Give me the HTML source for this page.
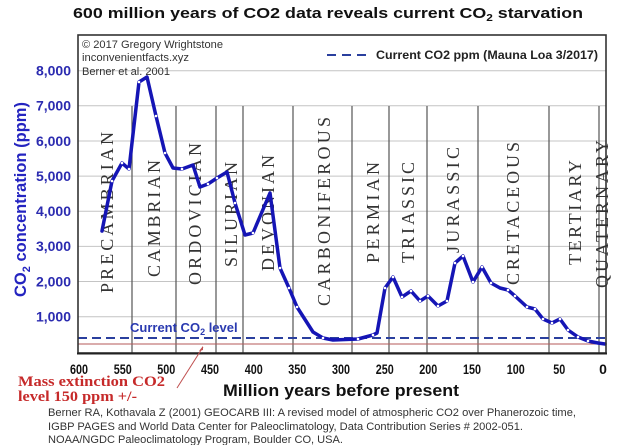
<!DOCTYPE html>
<html><head><meta charset="utf-8"><style>
html,body{margin:0;padding:0;background:#fff;}
svg{display:block;}
text{font-family:"Liberation Sans",Arial,sans-serif;}
.per text{font-family:"Liberation Serif","Times New Roman",serif;font-size:18px;fill:#333;}
.red text{font-family:"Liberation Serif","Times New Roman",serif;font-weight:bold;fill:#c62a2a;font-size:15px;}
.yl{font-size:14px;font-weight:bold;fill:#2b2bb0;}
.xl{font-size:14px;font-weight:bold;fill:#111;}
</style></head><body>
<svg width="618" height="445" viewBox="0 0 618 445" xmlns="http://www.w3.org/2000/svg">
<rect width="618" height="445" fill="#fff"/>
<!-- title -->
<text x="73" y="18" font-size="15" font-weight="bold" fill="#111" textLength="510" lengthAdjust="spacingAndGlyphs">600 million years of CO2 data reveals current CO<tspan font-size="10" dy="3">2</tspan><tspan dy="-3"> starvation</tspan></text>

<!-- grid lines -->
<g stroke="#c4c4c4" stroke-width="1">
<line x1="78" y1="70.7" x2="606" y2="70.7"/>
<line x1="78" y1="105.8" x2="606" y2="105.8"/>
<line x1="78" y1="141" x2="606" y2="141"/>
<line x1="78" y1="176.1" x2="606" y2="176.1"/>
<line x1="78" y1="211.2" x2="606" y2="211.2"/>
<line x1="78" y1="246.4" x2="606" y2="246.4"/>
<line x1="78" y1="281.5" x2="606" y2="281.5"/>
<line x1="78" y1="316.7" x2="606" y2="316.7"/>
</g>
<!-- period vertical lines -->
<g stroke="#555" stroke-width="1.2">
<line x1="132" y1="106" x2="132" y2="353"/>
<line x1="176" y1="106" x2="176" y2="353"/>
<line x1="216" y1="106" x2="216" y2="353"/>
<line x1="243" y1="106" x2="243" y2="353"/>
<line x1="293" y1="106" x2="293" y2="353"/>
<line x1="352" y1="106" x2="352" y2="353"/>
<line x1="389" y1="106" x2="389" y2="353"/>
<line x1="427" y1="106" x2="427" y2="353"/>
<line x1="478" y1="106" x2="478" y2="353"/>
<line x1="549" y1="106" x2="549" y2="353"/>
<line x1="599" y1="106" x2="599" y2="353"/>
</g>

<!-- period labels -->
<g class="per">
<text transform="translate(113,293) rotate(-90)" textLength="161" lengthAdjust="spacing">PRECAMBRIAN</text>
<text transform="translate(160,277) rotate(-90)" textLength="117" lengthAdjust="spacing">CAMBRIAN</text>
<text transform="translate(201,285) rotate(-90)" textLength="142" lengthAdjust="spacing">ORDOVICIAN</text>
<text transform="translate(237,267) rotate(-90)" textLength="105" lengthAdjust="spacing">SILURIAN</text>
<text transform="translate(274,271) rotate(-90)" textLength="116" lengthAdjust="spacing">DEVONIAN</text>
<text transform="translate(330,306) rotate(-90)" textLength="189" lengthAdjust="spacing">CARBONIFEROUS</text>
<text transform="translate(379,263) rotate(-90)" textLength="101" lengthAdjust="spacing">PERMIAN</text>
<text transform="translate(414,263) rotate(-90)" textLength="101" lengthAdjust="spacing">TRIASSIC</text>
<text transform="translate(459,253) rotate(-90)" textLength="106" lengthAdjust="spacing">JURASSIC</text>
<text transform="translate(519,285) rotate(-90)" textLength="143" lengthAdjust="spacing">CRETACEOUS</text>
<text transform="translate(581,265) rotate(-90)" textLength="105" lengthAdjust="spacing">TERTIARY</text>
<text transform="translate(608,288) rotate(-90)" textLength="148" lengthAdjust="spacing">QUATERNARY</text>
</g>

<!-- red mass extinction line -->
<line x1="78" y1="344" x2="606" y2="344" stroke="#b45a5a" stroke-width="1"/>
<!-- current CO2 dashed line -->
<line x1="78" y1="338" x2="606" y2="338" stroke="#2a3f9e" stroke-width="2" stroke-dasharray="9 5"/>

<!-- data curve -->
<polyline fill="none" stroke="#1515b5" stroke-width="3.5" stroke-linejoin="round" stroke-linecap="round"
points="102,231 112,181 122,163 129,169 139,82 147,77 156,116 165,153 173,168 182,169 193,165 200,187 208,184 217,178 227,172 235,203 245,235 253,233 270,193 280,268 289,288 297,307 313,332 323,338 333,340 358,339 373,335 377,333 385,288 393,277 402,297 411,291 420,301 428,296 438,306 447,301 455,263 463,256 473,282 482,267 491,283 500,288 508,290 515,296 527,307 535,309 543,319 552,323 560,319 568,330 578,337 588,341 598,343 605,344"/>
<g fill="#fff" stroke="none">
<circle cx="112" cy="181" r="1.3"/><circle cx="122" cy="163" r="1.3"/><circle cx="129" cy="169" r="1.3"/><circle cx="139" cy="82" r="1.3"/><circle cx="156" cy="116" r="1.3"/><circle cx="165" cy="153" r="1.3"/><circle cx="182" cy="169" r="1.3"/><circle cx="208" cy="184" r="1.3"/><circle cx="217" cy="178" r="1.3"/><circle cx="235" cy="203" r="1.3"/><circle cx="253" cy="233" r="1.3"/><circle cx="280" cy="268" r="1.3"/><circle cx="289" cy="288" r="1.3"/><circle cx="297" cy="307" r="1.3"/><circle cx="323" cy="338" r="1.3"/><circle cx="358" cy="339" r="1.3"/><circle cx="373" cy="335" r="1.3"/><circle cx="385" cy="288" r="1.3"/><circle cx="393" cy="277" r="1.3"/><circle cx="402" cy="297" r="1.3"/><circle cx="411" cy="291" r="1.3"/><circle cx="420" cy="301" r="1.3"/><circle cx="428" cy="296" r="1.3"/><circle cx="438" cy="306" r="1.3"/><circle cx="447" cy="301" r="1.3"/><circle cx="455" cy="263" r="1.3"/><circle cx="463" cy="256" r="1.3"/><circle cx="473" cy="282" r="1.3"/><circle cx="482" cy="267" r="1.3"/><circle cx="491" cy="283" r="1.3"/><circle cx="508" cy="290" r="1.3"/><circle cx="515" cy="296" r="1.3"/><circle cx="527" cy="307" r="1.3"/><circle cx="535" cy="309" r="1.3"/><circle cx="543" cy="319" r="1.3"/><circle cx="552" cy="323" r="1.3"/><circle cx="560" cy="319" r="1.3"/><circle cx="568" cy="330" r="1.3"/><circle cx="578" cy="337" r="1.3"/><circle cx="588" cy="341" r="1.3"/>
</g>

<!-- plot frame -->
<rect x="78" y="35" width="528" height="318" fill="none" stroke="#333" stroke-width="1.6"/>
<line x1="77" y1="353.5" x2="607" y2="353.5" stroke="#222" stroke-width="2"/>

<!-- copyright -->
<g font-size="11" fill="#333">
<text x="82" y="48" textLength="141" lengthAdjust="spacingAndGlyphs">© 2017 Gregory Wrightstone</text>
<text x="82" y="61" textLength="107" lengthAdjust="spacingAndGlyphs">inconvenientfacts.xyz</text>
<text x="82" y="75" textLength="88" lengthAdjust="spacingAndGlyphs">Berner et al. 2001</text>
</g>

<!-- legend -->
<line x1="327" y1="55" x2="367" y2="55" stroke="#2a3f9e" stroke-width="2" stroke-dasharray="9 6"/>
<text x="376" y="59" font-size="12" font-weight="bold" fill="#222" textLength="222" lengthAdjust="spacingAndGlyphs">Current CO2 ppm (Mauna Loa 3/2017)</text>

<!-- Current CO2 level -->
<text x="130" y="332" font-size="13" font-weight="bold" fill="#2a3ab0">Current CO<tspan font-size="9" dy="3">2</tspan><tspan dy="-3"> level</tspan></text>

<!-- y tick labels -->
<g class="yl" text-anchor="end">
<text x="71" y="75.5">8,000</text>
<text x="71" y="110.6">7,000</text>
<text x="71" y="145.8">6,000</text>
<text x="71" y="180.9">5,000</text>
<text x="71" y="216">4,000</text>
<text x="71" y="251.2">3,000</text>
<text x="71" y="286.3">2,000</text>
<text x="71" y="321.5">1,000</text>
</g>

<!-- y axis title -->
<text transform="translate(26,297) rotate(-90)" font-size="16.5" font-weight="bold" fill="#2424c0">CO<tspan font-size="11" dy="4">2</tspan><tspan dy="-4"> concentration (ppm)</tspan></text>

<!-- x tick labels -->
<g class="xl" text-anchor="middle">
<text x="79" y="374" textLength="18" lengthAdjust="spacingAndGlyphs">600</text>
<text x="122.7" y="374" textLength="18" lengthAdjust="spacingAndGlyphs">550</text>
<text x="166.3" y="374" textLength="18" lengthAdjust="spacingAndGlyphs">500</text>
<text x="210" y="374" textLength="18" lengthAdjust="spacingAndGlyphs">450</text>
<text x="253.7" y="374" textLength="18" lengthAdjust="spacingAndGlyphs">400</text>
<text x="297.3" y="374" textLength="18" lengthAdjust="spacingAndGlyphs">350</text>
<text x="341" y="374" textLength="18" lengthAdjust="spacingAndGlyphs">300</text>
<text x="384.7" y="374" textLength="18" lengthAdjust="spacingAndGlyphs">250</text>
<text x="428.3" y="374" textLength="18" lengthAdjust="spacingAndGlyphs">200</text>
<text x="472" y="374" textLength="18" lengthAdjust="spacingAndGlyphs">150</text>
<text x="515.7" y="374" textLength="18" lengthAdjust="spacingAndGlyphs">100</text>
<text x="559.3" y="374" textLength="12" lengthAdjust="spacingAndGlyphs">50</text>
<text x="603" y="374">0</text>
</g>

<!-- x axis title -->
<text x="223" y="396" font-size="17" font-weight="bold" fill="#111" textLength="236" lengthAdjust="spacingAndGlyphs">Million years before present</text>

<!-- red annotation -->
<g class="red">
<text x="18" y="386" textLength="147" lengthAdjust="spacingAndGlyphs">Mass extinction CO2</text>
<text x="18" y="401" textLength="119" lengthAdjust="spacingAndGlyphs">level 150 ppm +/-</text>
</g>
<line x1="177" y1="388" x2="203" y2="347" stroke="#c05050" stroke-width="1"/>
<polygon points="203,346 199,351 203,350" fill="#c05050"/>

<!-- citation -->
<g font-size="11" fill="#333">
<text x="48" y="416" textLength="528" lengthAdjust="spacingAndGlyphs">Berner RA, Kothavala Z (2001) GEOCARB III: A revised model of atmospheric CO2 over Phanerozoic time,</text>
<text x="48" y="430" textLength="475" lengthAdjust="spacingAndGlyphs">IGBP PAGES and World Data Center for Paleoclimatology, Data Contribution Series # 2002-051.</text>
<text x="48" y="443" textLength="295" lengthAdjust="spacingAndGlyphs">NOAA/NGDC Paleoclimatology Program, Boulder CO, USA.</text>
</g>
</svg>
</body></html>
